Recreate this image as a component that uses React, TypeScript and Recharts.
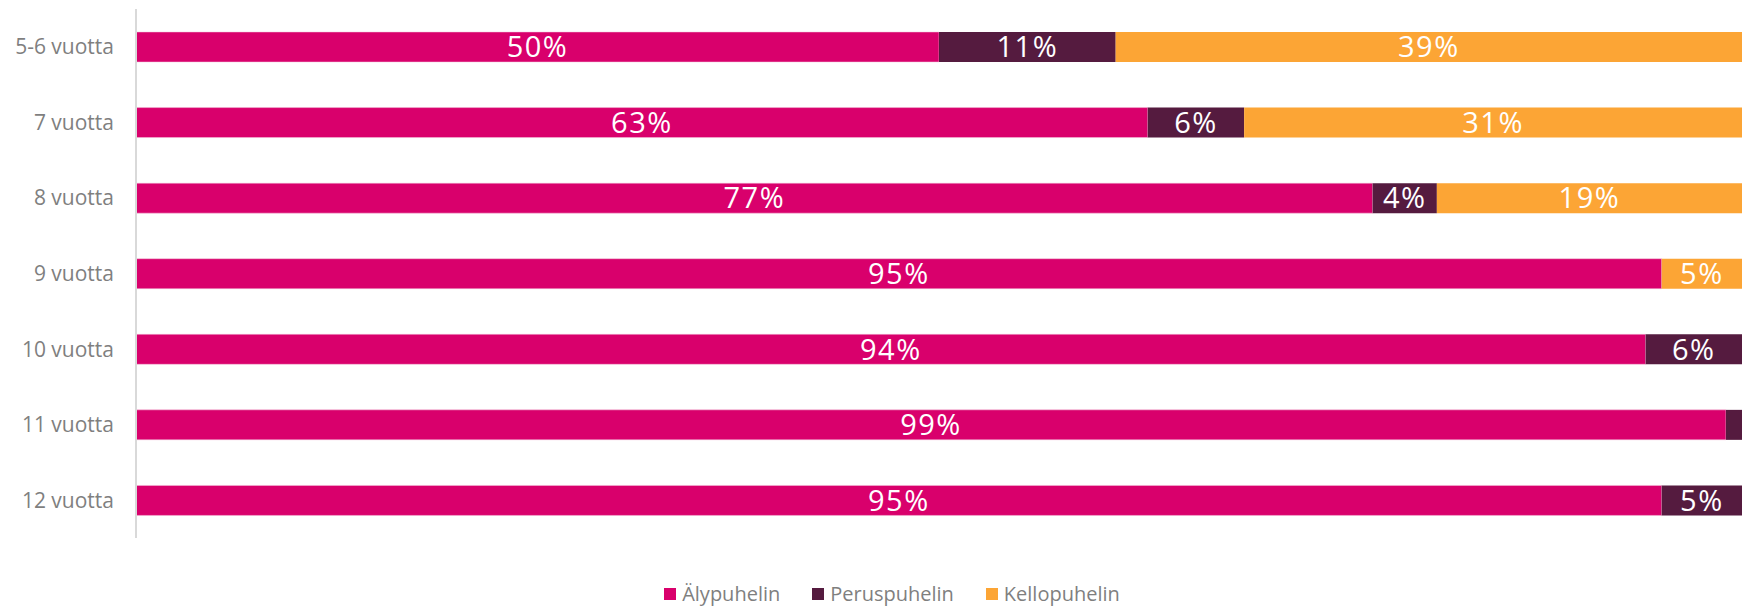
import { BarChart, Bar, XAxis, YAxis, Legend, LabelList } from "recharts"

const ageGroups = ["5-6 vuotta", "7 vuotta", "8 vuotta", "9 vuotta", "10 vuotta", "11 vuotta", "12 vuotta"]
const smartphone = [50, 63, 77, 95, 94, 99, 95]
const basicPhone = [11, 6, 4, 0, 6, 1, 5]
const watchPhone = [39, 31, 19, 5, 0, 0, 0]

const seriesNames = ["Älypuhelin", "Peruspuhelin", "Kellopuhelin"]
const seriesColors = ["#d9006c", "#551b3f", "#fca535"]

const data = ageGroups.map((name, i) => ({
  name,
  aly: smartphone[i],
  perus: basicPhone[i],
  kello: watchPhone[i],
}))

const FONT = "'Open Sans', Lato, sans-serif"

const pct = (v: unknown) => {
  const n = Number(v)
  return n >= 2 ? `${n}%` : ""
}

const labelStyle = { fill: "#ffffff", fontSize: 29, fontFamily: FONT, letterSpacing: 1.5 }

function LegendBox() {
  return (
    <div
      style={{
        height: 68,
        display: "flex",
        justifyContent: "center",
        alignItems: "flex-end",
        paddingLeft: 42,
        fontFamily: FONT,
        fontSize: 20,
        color: "#7f7f7f",
        boxSizing: "border-box",
      }}
    >
      {seriesNames.map((s, i) => (
        <div key={s} style={{ display: "flex", alignItems: "center", marginRight: i < 2 ? 32 : 0, lineHeight: "24px" }}>
          <span style={{ width: 12, height: 12, background: seriesColors[i], marginRight: 6, display: "inline-block" }} />
          {s}
        </div>
      ))}
    </div>
  )
}

export default function App() {
  return (
    <div style={{ position: "absolute", left: 0, top: 0, width: 1742, height: 606, background: "#fff" }}>
      <BarChart
        width={1742}
        height={606}
        data={data}
        layout="vertical"
        margin={{ top: 9, right: 0, bottom: 0, left: 0 }}
        barSize={30}
      >
        <XAxis type="number" domain={[0, 100]} hide />
        <YAxis
          type="category"
          dataKey="name"
          width={136}
          tickLine={false}
          axisLine={{ stroke: "#d9d9d9", strokeWidth: 2 }}
          tick={{ fill: "#7f7f7f", fontSize: 21, fontFamily: FONT }}
          tickMargin={16}
        />
        <Legend verticalAlign="bottom" height={68} content={<LegendBox />} />
        <Bar dataKey="aly" name={seriesNames[0]} stackId="a" fill={seriesColors[0]} stroke="#f3c6dc" strokeWidth={0.5} isAnimationActive={false}>
          <LabelList dataKey="aly" position="center" formatter={pct} style={labelStyle} />
        </Bar>
        <Bar dataKey="perus" name={seriesNames[1]} stackId="a" fill={seriesColors[1]} isAnimationActive={false}>
          <LabelList dataKey="perus" position="center" formatter={pct} style={labelStyle} />
        </Bar>
        <Bar dataKey="kello" name={seriesNames[2]} stackId="a" fill={seriesColors[2]} isAnimationActive={false}>
          <LabelList dataKey="kello" position="center" formatter={pct} style={labelStyle} />
        </Bar>
      </BarChart>
    </div>
  )
}
